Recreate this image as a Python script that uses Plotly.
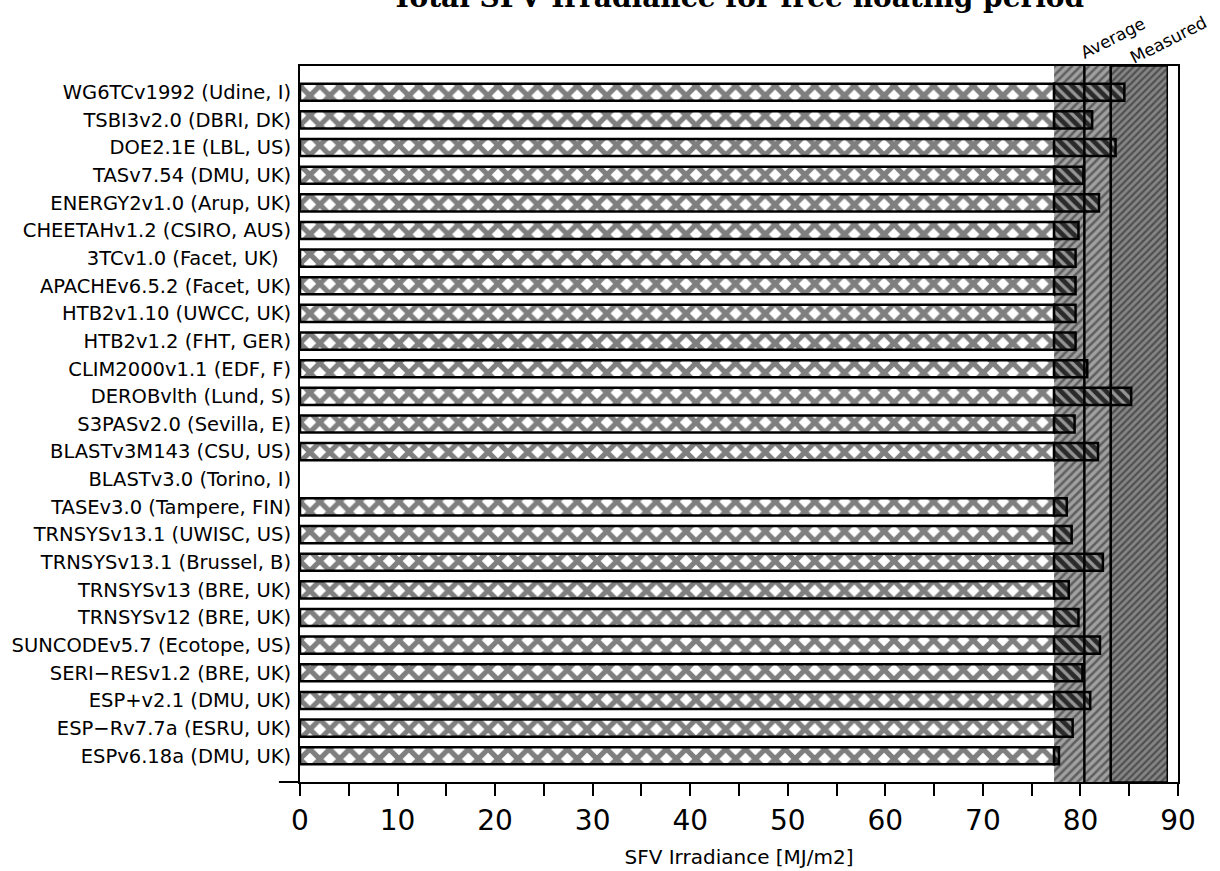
import plotly.graph_objects as go

programs = [
    "WG6TCv1992 (Udine, I)", "TSBI3v2.0 (DBRI, DK)", "DOE2.1E (LBL, US)", "TASv7.54 (DMU, UK)",
    "ENERGY2v1.0 (Arup, UK)", "CHEETAHv1.2 (CSIRO, AUS)", "3TCv1.0 (Facet, UK)\u00a0\u00a0",
    "APACHEv6.5.2 (Facet, UK)", "HTB2v1.10 (UWCC, UK)", "HTB2v1.2 (FHT, GER)",
    "CLIM2000v1.1 (EDF, F)", "DEROBvlth (Lund, S)", "S3PASv2.0 (Sevilla, E)",
    "BLASTv3M143 (CSU, US)", "BLASTv3.0 (Torino, I)", "TASEv3.0 (Tampere, FIN)",
    "TRNSYSv13.1 (UWISC, US)", "TRNSYSv13.1 (Brussel, B)", "TRNSYSv13 (BRE, UK)",
    "TRNSYSv12 (BRE, UK)", "SUNCODEv5.7 (Ecotope, US)", "SERI\u2212RESv1.2 (BRE, UK)",
    "ESP+v2.1 (DMU, UK)", "ESP\u2212Rv7.7a (ESRU, UK)", "ESPv6.18a (DMU, UK)",
]
irradiance = [
    84.5, 81.2, 83.6, 80.3, 81.9, 79.8, 79.5, 79.5, 79.5, 79.5,
    80.7, 85.2, 79.4, 81.8, None, 78.6, 79.1, 82.3, 78.8, 79.8,
    82.0, 80.2, 81.0, 79.2, 77.8,
]
range_low = 77.3
average = 80.4
measured_low = 83.1
measured_high = 88.9
x_ticks = list(range(0, 91, 5))
x_tick_text = [str(v) if v % 10 == 0 else "" for v in x_ticks]

base_part = [None if v is None else min(v, range_low) for v in irradiance]
excess_part = [None if (v is None or v <= range_low) else v - range_low for v in irradiance]
excess_base = [range_low] * len(irradiance)

fig = go.Figure()

# Shaded bands (primary y axis, drawn first)
fig.add_trace(go.Bar(
    y=[0.5], x=[measured_low - range_low], base=[range_low], orientation="h", width=1,
    marker=dict(color="#9a9a9a", line=dict(width=0),
                pattern=dict(shape="/", fgcolor="#1e1e1e", bgcolor="#a0a0a0", size=6, solidity=0.42)),
    yaxis="y", hoverinfo="skip", showlegend=False))
fig.add_trace(go.Bar(
    y=[0.5], x=[measured_high - measured_low], base=[measured_low], orientation="h", width=1,
    marker=dict(color="#808080", line=dict(width=1.5, color="black"),
                pattern=dict(shape="/", fgcolor="#1a1a1a", bgcolor="#858585", size=5, solidity=0.45)),
    yaxis="y", hoverinfo="skip", showlegend=False))

# Program bars
fig.add_trace(go.Bar(
    y=programs, x=base_part, orientation="h", width=0.62, yaxis="y2",
    marker=dict(color="white", line=dict(width=2.5, color="black"),
                pattern=dict(shape="x", fgcolor="black", bgcolor="white", size=14, solidity=0.6)),
    showlegend=False))
fig.add_trace(go.Bar(
    y=programs, x=excess_part, base=excess_base, orientation="h", width=0.62, yaxis="y2",
    marker=dict(color="#333333", line=dict(width=2.5, color="black"),
                pattern=dict(shape="\\", fgcolor="#ffffff", bgcolor="#2a2a2a", size=8, solidity=0.4)),
    showlegend=False))

fig.update_layout(
    width=1220, height=871,
    margin=dict(l=300, r=42, t=66, b=89),
    paper_bgcolor="white", plot_bgcolor="white",
    barmode="overlay",
    font=dict(family="DejaVu Sans", color="black"),
    title=dict(text="<b>Total SFV Irradiance for free floating period</b>",
               font=dict(family="DejaVu Serif", size=28, color="black"),
               x=738 / 1220, xanchor="center", yref="container", y=1 - 7 / 871, yanchor="bottom"),
    xaxis=dict(range=[0, 90], tickvals=x_ticks, ticktext=x_tick_text, ticks="outside",
               ticklen=12, tickwidth=2, tickcolor="black", showline=True, linewidth=2,
               linecolor="black", mirror=True, showgrid=False, zeroline=False, automargin=False,
               tickfont=dict(size=28, family="DejaVu Sans"),
               title=dict(text="SFV Irradiance [MJ/m2]", font=dict(size=20), standoff=14)),
    yaxis=dict(range=[0, 1], visible=False, fixedrange=True),
    yaxis2=dict(overlaying="y", side="left", categoryorder="array", categoryarray=programs,
                range=[24.95, -0.95], showline=True, linewidth=2, linecolor="black",
                mirror=True, showgrid=False, ticks="", tickfont=dict(size=19.5),
                ticklabelstandoff=3, automargin=False),
    shapes=[
        dict(type="line", xref="x", yref="paper", x0=average, x1=average, y0=0, y1=1,
             line=dict(color="black", width=2.5), layer="above"),
        dict(type="line", xref="x", yref="paper", x0=measured_low, x1=measured_low, y0=0, y1=1,
             line=dict(color="black", width=2.5), layer="above"),
        dict(type="line", xref="paper", yref="paper", x0=-0.024, x1=0, y0=0, y1=0,
             line=dict(color="black", width=2), layer="above"),
    ],
    annotations=[
        dict(text="Average", xref="x", yref="paper", x=83.3, y=1.039, showarrow=False,
             xanchor="center", yanchor="middle",
             textangle=-27, font=dict(size=17, family="DejaVu Sans")),
        dict(text="Measured", xref="x", yref="paper", x=89.0, y=1.036, showarrow=False,
             xanchor="center", yanchor="middle",
             textangle=-27, font=dict(size=17, family="DejaVu Sans")),
    ],
)

fig.write_html("out.html", config={"displayModeBar": False},
               post_script="document.body.style.margin='0';")
